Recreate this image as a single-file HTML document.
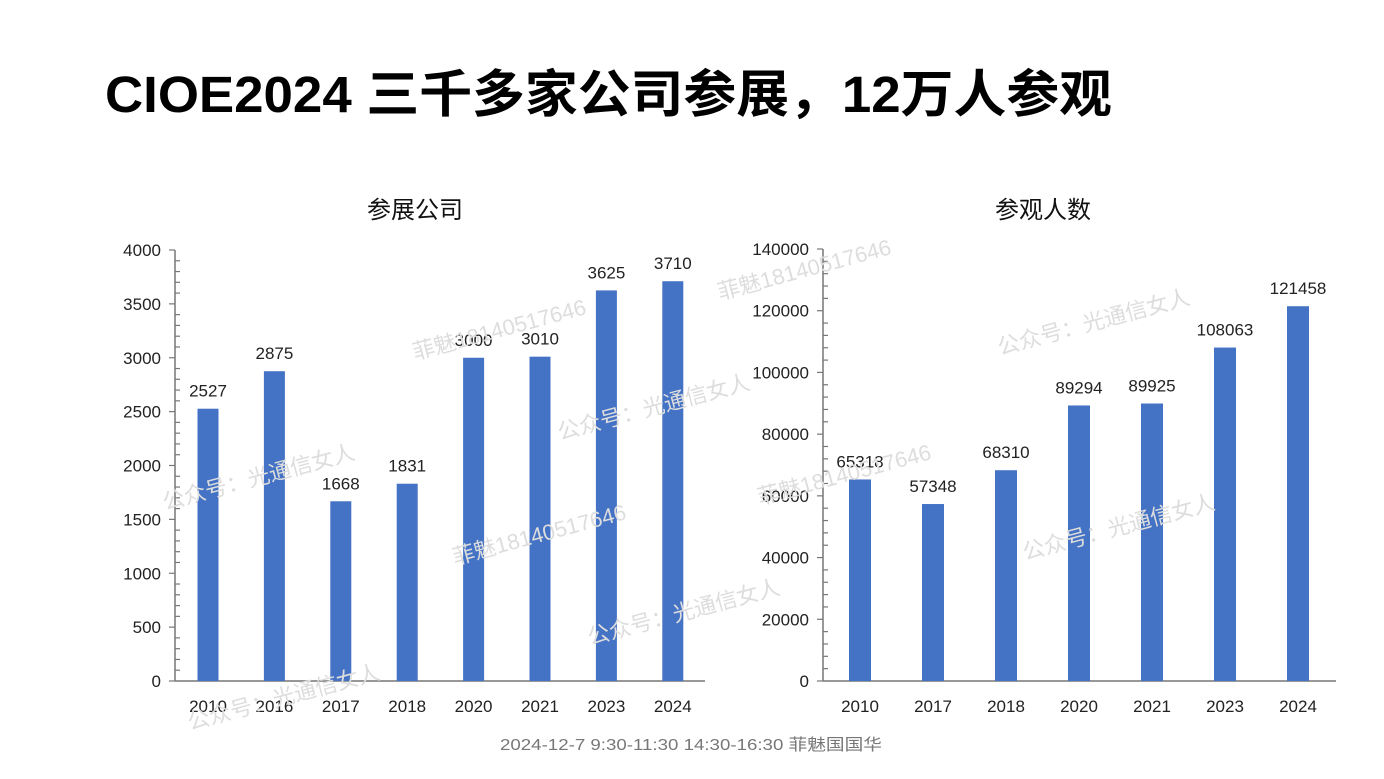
<!DOCTYPE html><html><head><meta charset="utf-8"><style>
body{margin:0;width:1384px;height:779px;background:#fff;overflow:hidden}
svg{display:block}
text{font-family:"Liberation Sans","Noto Sans CJK SC",sans-serif}
</style></head><body>
<svg width="1384" height="779" xmlns="http://www.w3.org/2000/svg">
<text x="105" y="112" font-size="51" font-weight="bold" fill="#000" textLength="1007" lengthAdjust="spacingAndGlyphs">CIOE2024 三千多家公司参展，12万人参观</text>
<text x="415" y="218" font-size="24" text-anchor="middle" fill="#111">参展公司</text>
<text x="1043" y="218" font-size="24" text-anchor="middle" fill="#111">参观人数</text>
<g id="L" font-size="17" fill="#222">
<line x1="175" y1="250" x2="175" y2="681" stroke="#777" stroke-width="1.5"/>
<line x1="175" y1="681" x2="705" y2="681" stroke="#777" stroke-width="1.5"/>
</g>
<g id="R" font-size="17" fill="#222">
<line x1="823" y1="249" x2="823" y2="681" stroke="#777" stroke-width="1.5"/>
<line x1="823" y1="681" x2="1336" y2="681" stroke="#777" stroke-width="1.5"/>
</g>
<text x="500" y="750" font-size="16" fill="#777" textLength="382" lengthAdjust="spacingAndGlyphs">2024-12-7 9:30-11:30  14:30-16:30  菲魅国国华</text>
<g fill="#ddd" font-size="22" font-family="Liberation Serif,Noto Serif CJK SC,serif">
<text transform="translate(415,360) rotate(-15)">菲魅18140517646</text>
<text transform="translate(720,300) rotate(-15)">菲魅18140517646</text>
<text transform="translate(560,440) rotate(-15)">公众号：光通信女人</text>
<text transform="translate(1000,355) rotate(-15)">公众号：光通信女人</text>
<text transform="translate(165,510) rotate(-15)">公众号：光通信女人</text>
<text transform="translate(760,505) rotate(-15)">菲魅18140517646</text>
<text transform="translate(455,565) rotate(-15)">菲魅18140517646</text>
<text transform="translate(1025,560) rotate(-15)">公众号：光通信女人</text>
<text transform="translate(590,645) rotate(-15)">公众号：光通信女人</text>
<text transform="translate(190,730) rotate(-15)">公众号：光通信女人</text>
</g>
</svg>
<script>
var ns="http://www.w3.org/2000/svg";
function el(p,t,a,txt){var e=document.createElementNS(ns,t);for(var k in a)e.setAttribute(k,a[k]);if(txt!=null)e.textContent=txt;p.appendChild(e);}
function chart(id,ax,top,max,step,minor,cats,vals,c0,sp,bw){
 var g=document.getElementById(id),h=681-top;
 for(var v=0;v<=max;v+=minor){var y=681-v/max*h;var maj=v%step==0;
  el(g,"line",{x1:maj?ax-6:ax,x2:ax+(maj?0:5),y1:y,y2:y,stroke:"#777","stroke-width":1.2});
  if(maj)el(g,"text",{x:ax-14,y:y+6,"text-anchor":"end"},v);}
 for(var i=0;i<cats.length;i++){var cx=c0+i*sp,y=681-vals[i]/max*h;
  el(g,"rect",{x:cx-bw/2,y:y,width:bw,height:681-y,fill:"#4472c4"});
  el(g,"text",{x:cx,y:y-12,"text-anchor":"middle"},vals[i]);
  el(g,"text",{x:cx,y:712,"text-anchor":"middle"},cats[i]);}
}
chart("L",175,250,4000,500,100,["2010","2016","2017","2018","2020","2021","2023","2024"],[2527,2875,1668,1831,3000,3010,3625,3710],208,66.4,21);
chart("R",823,249,140000,20000,4000,["2010","2017","2018","2020","2021","2023","2024"],[65318,57348,68310,89294,89925,108063,121458],860,73,22);
</script>
</body></html>
